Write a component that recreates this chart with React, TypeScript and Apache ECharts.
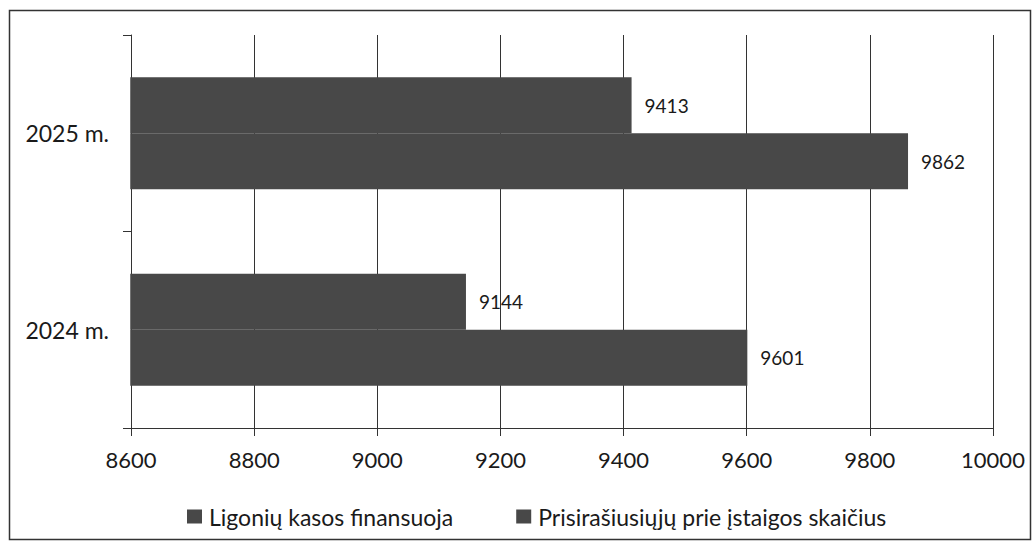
import React, { useEffect, useRef } from "react";
import * as echarts from "echarts";

const categories = ["2024 m.", "2025 m."];
const seriesNames = ["Ligonių kasos finansuoja", "Prisirašiusiųjų prie įstaigos skaičius"];
const ligoniuKasos = [9144, 9413];
const prisirasiusiuju = [9601, 9862];
const xMin = 8600;
const xMax = 10000;
const xStep = 200;

const FONT = "Lato, 'Noto Sans', sans-serif";

export default function App() {
  const ref = useRef<HTMLDivElement>(null);
  useEffect(() => {
    if (!ref.current) return;
    const chart = echarts.init(ref.current, null, { renderer: "svg" });
    const label = {
      show: true,
      position: "right",
      distance: 13,
      color: "#1a1a1a",
      fontFamily: FONT,
      fontSize: 19,
    };
    chart.setOption({
      animation: false,
      backgroundColor: "#ffffff",
      graphic: [
        {
          type: "rect",
          shape: { x: 9.5, y: 10.5, width: 1021, height: 529 },
          style: { fill: "none", stroke: "#333", lineWidth: 1.5 },
          silent: true,
        },
      ],
      grid: { left: 131, right: 40, top: 35, bottom: 114, containLabel: false },
      legend: {
        data: seriesNames,
        left: 182,
        top: 500,
        itemWidth: 13,
        itemHeight: 12,
        itemGap: 63,
        icon: "rect",
        textStyle: { fontFamily: FONT, fontSize: 23, color: "#1a1a1a", padding: [0, 0, 0, 3] },
      },
      xAxis: {
        type: "value",
        min: xMin,
        max: xMax,
        interval: xStep,
        axisLine: { show: true, lineStyle: { color: "#333", width: 1 } },
        axisTick: { show: true, length: 8, lineStyle: { color: "#333" } },
        splitLine: { show: true, lineStyle: { color: "#333", width: 1 } },
        axisLabel: {
          margin: 20,
          fontFamily: FONT,
          fontSize: 22,
          color: "#1a1a1a",
          formatter: (v: number) => String(v),
        },
      },
      yAxis: {
        type: "category",
        data: categories,
        axisLine: { show: true, lineStyle: { color: "#333", width: 1 } },
        axisTick: { show: true, length: 8, lineStyle: { color: "#333" } },
        axisLabel: { margin: 22, fontFamily: FONT, fontSize: 23, color: "#1a1a1a" },
      },
      series: [
        {
          name: seriesNames[0],
          type: "bar",
          data: ligoniuKasos,
          barGap: "0%",
          barCategoryGap: "43%",
          itemStyle: { color: "#484848", borderColor: "#484848", borderWidth: 1.5 },
          label,
          z: 3,
        },
        {
          name: seriesNames[1],
          type: "bar",
          data: prisirasiusiuju,
          barGap: "0%",
          barCategoryGap: "43%",
          itemStyle: { color: "#484848", borderColor: "#484848", borderWidth: 1.5 },
          label,
          z: 3,
        },
      ],
    });
    return () => chart.dispose();
  }, []);
  return (
    <div
      ref={ref}
      style={{ position: "absolute", left: 0, top: 0, width: 1033, height: 542 }}
    />
  );
}
